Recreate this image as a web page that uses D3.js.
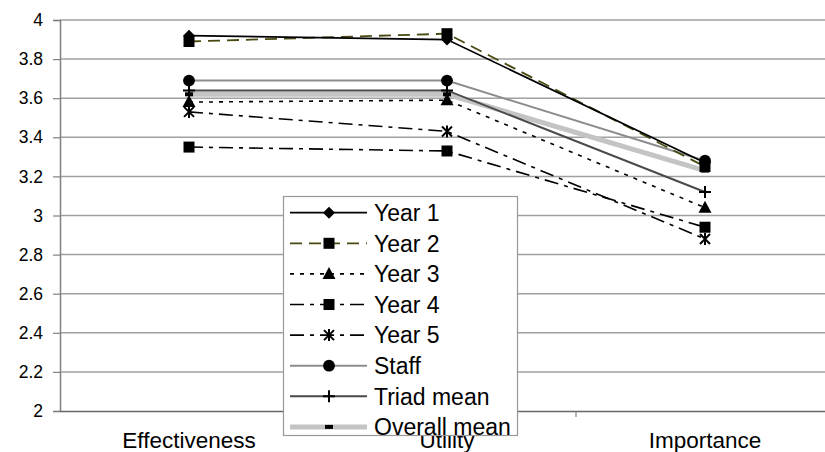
<!DOCTYPE html>
<html><head><meta charset="utf-8">
<script src="https://cdn.jsdelivr.net/npm/d3@7"></script>
<style>body{margin:0;background:#fff}svg{display:block}text{font-family:Arial,"Liberation Sans",sans-serif}</style>
</head><body><svg id="c" width="825" height="452"></svg>
<script>
const categories = ["Effectiveness", "Utility", "Importance"];
const year1 = [3.92, 3.90, 3.27];
const year2 = [3.89, 3.93, 3.25];
const year3 = [3.58, 3.59, 3.04];
const year4 = [3.35, 3.33, 2.94];
const year5 = [3.53, 3.43, 2.88];
const staff = [3.69, 3.69, 3.28];
const triadMean = [3.64, 3.64, 3.12];
const overallMean = [3.62, 3.62, 3.23];
const seriesNames = ["Year 1", "Year 2", "Year 3", "Year 4", "Year 5", "Staff", "Triad mean", "Overall mean"];
const yTicks = [2, 2.2, 2.4, 2.6, 2.8, 3, 3.2, 3.4, 3.6, 3.8, 4];

const styles = {
  "Year 1": {color: "#000", width: 1.8, dash: null, marker: "diamond"},
  "Year 2": {color: "#4a4a10", width: 1.8, dash: "12,7", marker: "square"},
  "Year 3": {color: "#000", width: 1.6, dash: "4,6", marker: "triangle"},
  "Year 4": {color: "#000", width: 1.6, dash: "14,6,4,6", marker: "square"},
  "Year 5": {color: "#000", width: 1.6, dash: "14,6,4,6", marker: "asterisk"},
  "Staff": {color: "#8c8c8c", width: 2, dash: null, marker: "circle"},
  "Triad mean": {color: "#4a4a4a", width: 2, dash: null, marker: "plus"},
  "Overall mean": {color: "#c4c4c4", width: 5, dash: null, marker: "dash"}
};
const values = [year1, year2, year3, year4, year5, staff, triadMean, overallMean];
const series = seriesNames.map((n, i) => ({name: n, values: values[i], ...styles[n]}));

const svg = d3.select("#c");
const mLeft = 60, mTop = 20, mBottom = 411;
const x = d3.scaleBand().domain(categories).range([mLeft, 834]).paddingInner(0).paddingOuter(0);
const cx = c => x(c) + x.bandwidth() / 2;
const y = d3.scaleLinear().domain([2, 4]).range([mBottom, mTop]);

// gridlines
svg.append("g").selectAll("line").data(yTicks.filter(t => t > 2)).join("line")
  .attr("x1", mLeft).attr("x2", 825).attr("y1", d => y(d)).attr("y2", d => y(d))
  .attr("stroke", "#a0a0a0").attr("stroke-width", 1.5);

// y axis
const ya = svg.append("g").attr("transform", `translate(${mLeft},0)`)
  .call(d3.axisLeft(y).tickValues(yTicks).tickSize(7).tickPadding(10).tickFormat(d => d3.format("")(d)));
ya.select(".domain").attr("stroke", "#808080").attr("stroke-width", 1.5);
ya.selectAll(".tick line").attr("stroke", "#808080").attr("stroke-width", 1.2);
ya.selectAll(".tick text").attr("font-size", 17.5).attr("fill", "#000").attr("font-family", "Arial, 'Liberation Sans', sans-serif");

// x axis
const xa = svg.append("g").attr("transform", `translate(0,${mBottom})`)
  .call(d3.axisBottom(x).tickSize(0).tickPadding(21));
xa.select(".domain").attr("stroke", "#666").attr("stroke-width", 1.5);
xa.selectAll(".tick text").attr("font-size", 22.5).attr("fill", "#000").attr("font-family", "Arial, 'Liberation Sans', sans-serif");
svg.append("g").selectAll("line").data(categories.slice(1)).join("line")
  .attr("x1", d => x(d)).attr("x2", d => x(d)).attr("y1", mBottom).attr("y2", mBottom + 6)
  .attr("stroke", "#808080").attr("stroke-width", 1.2);

function markerPath(type) {
  switch (type) {
    case "diamond": return "M0,-6L6,0L0,6L-6,0Z";
    case "square": return "M-5.5,-5.5H5.5V5.5H-5.5Z";
    case "triangle": return "M0,-7L6.5,5H-6.5Z";
    case "circle": return d3.symbol(d3.symbolCircle, 110)();
    case "plus": return "M-6,0H6M0,-6V6";
    case "asterisk": return "M-5,-5L5,5M-5,5L5,-5M0,-6V6";
    case "dash": return "M-4,-2H4V2H-4Z";
  }
}
const strokeMarkers = new Set(["plus", "asterisk"]);

const line = d3.line().x((d, i) => cx(categories[i])).y(d => y(d));
const order = [7, 5, 6, 4, 3, 2, 1, 0];
order.forEach(k => {
  const s = series[k];
  svg.append("path").datum(s.values).attr("d", line).attr("fill", "none")
    .attr("stroke", s.color).attr("stroke-width", s.width)
    .attr("stroke-dasharray", s.dash);
});
order.forEach(k => {
  const s = series[k];
  svg.append("g").selectAll("path").data(s.values).join("path")
    .attr("transform", (d, i) => `translate(${cx(categories[i])},${y(d)})`)
    .attr("d", markerPath(s.marker))
    .attr("fill", strokeMarkers.has(s.marker) ? "none" : "#000")
    .attr("stroke", "#000").attr("stroke-width", strokeMarkers.has(s.marker) ? 2 : 0);
});

// legend
const lg = svg.append("g");
lg.append("rect").attr("x", 283.5).attr("y", 196.5).attr("width", 234).attr("height", 239)
  .attr("fill", "#fff").attr("stroke", "#999").attr("stroke-width", 1.2);
series.forEach((s, i) => {
  const yy = 212.7 + i * 30.6;
  const g = lg.append("g");
  g.append("line").attr("x1", 290).attr("x2", 367).attr("y1", yy).attr("y2", yy)
    .attr("stroke", s.color).attr("stroke-width", s.width).attr("stroke-dasharray", s.dash);
  g.append("path").attr("transform", `translate(329,${yy})`).attr("d", markerPath(s.marker))
    .attr("fill", strokeMarkers.has(s.marker) ? "none" : "#000")
    .attr("stroke", "#000").attr("stroke-width", strokeMarkers.has(s.marker) ? 2 : 0);
  g.append("text").attr("x", 374).attr("y", yy).attr("dy", "0.36em")
    .attr("font-size", 23).attr("fill", "#000").text(s.name);
});
</script></body></html>
